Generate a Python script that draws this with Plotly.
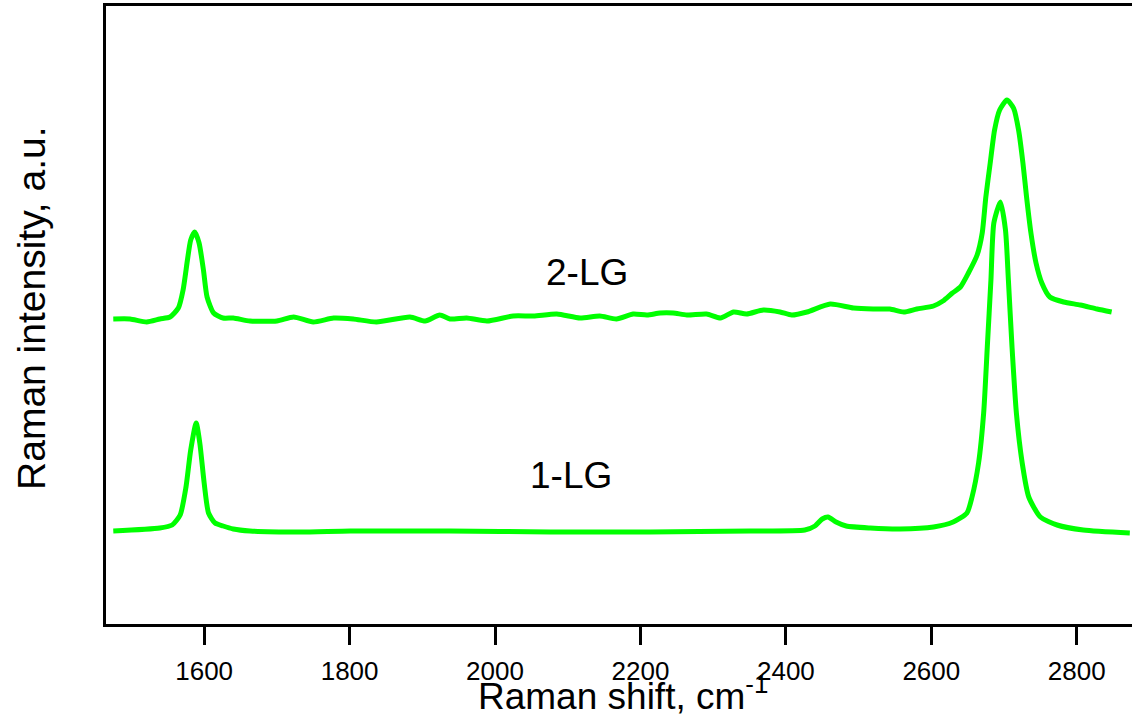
import plotly.graph_objects as go

# Raman shift (cm^-1) and intensity (a.u.)
shift_1lg = [1475, 1539, 1556, 1567, 1575, 1581.5, 1589, 1594, 1600, 1606, 1615, 1626, 1640, 1663,
             1732, 1801, 1938, 2076, 2213, 2351, 2426, 2440, 2450, 2458, 2469, 2483, 2516, 2557,
             2603, 2630, 2649, 2656, 2665, 2672, 2677, 2682, 2686, 2695, 2702, 2706, 2711, 2717,
             2725, 2734, 2750, 2773, 2809, 2873]
int_1lg = [93, 96, 99, 109, 137, 174, 201, 181, 141, 111, 101, 98, 95, 93,
           92, 93, 93, 92, 92, 93, 94, 98, 105, 107, 102, 98, 96, 95,
           97, 102, 111, 127, 161, 211, 277, 344, 401, 422, 394, 344, 277, 211,
           161, 127, 107, 99, 94, 91]

shift_2lg = [1475, 1498, 1521, 1539, 1553, 1564.5, 1571, 1577, 1581.5, 1587, 1593, 1599, 1604, 1613,
             1626, 1640, 1663, 1700, 1723, 1750, 1778, 1805, 1837, 1883, 1904, 1924, 1938, 1961,
             1989, 2025, 2053, 2085, 2117, 2144, 2167, 2190, 2209, 2227, 2245, 2264, 2291, 2310,
             2328, 2346, 2369, 2392, 2408, 2429, 2461, 2493, 2520, 2543, 2562, 2580, 2603, 2616,
             2629, 2640, 2651, 2663, 2670, 2675, 2681, 2687, 2694, 2704, 2713, 2720, 2726, 2731,
             2737, 2744, 2752, 2763, 2782, 2805, 2828, 2848]
int_2lg = [305, 305, 302, 305, 307, 316, 334, 364, 384, 392, 381, 354, 327, 311,
           306, 306, 303, 303, 307, 302, 306, 305, 302, 307, 303, 309, 305, 306,
           303, 308, 308, 310, 306, 308, 305, 310, 309, 311, 311, 309, 310, 306,
           312, 310, 314, 312, 309, 312, 320, 316, 315, 315, 312, 315, 318, 323,
           331, 337, 351, 369, 391, 427, 461, 494, 514, 524, 516, 494, 461, 427,
           391, 361, 341, 327, 322, 319, 315, 312]

x_ticks = [1600, 1800, 2000, 2200, 2400, 2600, 2800]
labels = {"2-LG": (2126, 352), "1-LG": (2105, 149)}

GREEN = "#00FF00"
FONT = "Liberation Sans, Arial, sans-serif"

fig = go.Figure()
for xs, ys, name in [(shift_2lg, int_2lg, "2-LG"), (shift_1lg, int_1lg, "1-LG")]:
    fig.add_trace(go.Scatter(x=xs, y=ys, mode="lines", name=name,
                             line=dict(color=GREEN, width=5, shape="spline", smoothing=0.6),
                             showlegend=False, hoverinfo="skip"))

for txt, (lx, ly) in labels.items():
    fig.add_annotation(x=lx, y=ly, text=txt, showarrow=False,
                       font=dict(family=FONT, size=37, color="black"))

fig.add_annotation(xref="paper", yref="paper", x=0.504, y=-0.113,
                   xanchor="center", yanchor="middle",
                   text="Raman shift, cm<sup>-1</sup>", showarrow=False,
                   font=dict(family=FONT, size=37, color="black"))
fig.add_annotation(xref="paper", yref="paper", x=-0.072, y=0.51, textangle=-90,
                   xanchor="center", yanchor="middle",
                   text="Raman intensity, a.u.", showarrow=False,
                   font=dict(family=FONT, size=39, color="black"))

fig.update_layout(
    width=1132, height=722,
    margin=dict(l=106, r=0, t=6, b=98),
    paper_bgcolor="white", plot_bgcolor="white",
    font=dict(family=FONT, color="black"),
    xaxis=dict(range=[1465, 2876], tickvals=x_ticks, ticktext=[str(t) for t in x_ticks],
               ticks="outside", ticklen=18, tickwidth=3, tickcolor="black",
               ticklabelstandoff=4,
               showline=True, linewidth=3, linecolor="black", mirror=True,
               showgrid=False, zeroline=False, tickfont=dict(family=FONT, size=26, color="black")),
    yaxis=dict(range=[0, 618], showticklabels=False, ticks="",
               showline=True, linewidth=3, linecolor="black", mirror=False,
               showgrid=False, zeroline=False),
)

fig.write_html("out.html", config={"displayModeBar": False},
               post_script="document.body.style.margin='0px';")
